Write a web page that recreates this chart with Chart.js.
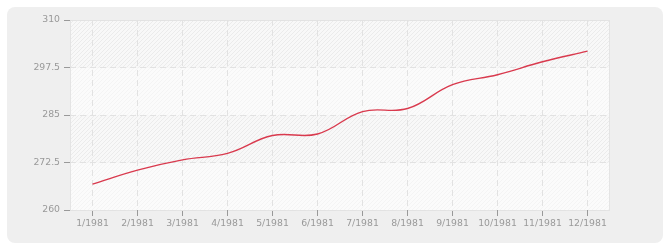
<!DOCTYPE html>
<html lang="fr">
<head>
  <meta charset="UTF-8" />
  <title>Population 1981</title>
  <script src="https://cdn.jsdelivr.net/npm/chart.js"></script>
  <style>
    body {
      margin: 0;
      background: #ffffff;
    }
    .panel {
      position: absolute;
      left: 7px;
      top: 7px;
      width: 656px;
      height: 236px;
      background: #efefef;
      border-radius: 8px;
    }
    canvas {
      display: block;
    }
  </style>
</head>
<body>
  <div class="panel">
    <canvas id="chart" width="656" height="236"></canvas>
  </div>

  <script>
    const months = ['1/1981', '2/1981', '3/1981', '4/1981', '5/1981', '6/1981',
                    '7/1981', '8/1981', '9/1981', '10/1981', '11/1981', '12/1981'];
    const values = [266.8, 270.5, 273.2, 274.9, 279.6, 280.0, 285.9, 286.7, 293.0, 295.6, 299.0, 301.8];
    const yTicks = [260, 272.5, 285, 297.5, 310];

    function makeHatch(bg, stripe) {
      const c = document.createElement('canvas');
      c.width = 4; c.height = 4;
      const g = c.getContext('2d');
      g.fillStyle = bg;
      g.fillRect(0, 0, 4, 4);
      g.strokeStyle = stripe;
      g.lineWidth = 1;
      g.beginPath();
      g.moveTo(-1, 5); g.lineTo(5, -1);
      g.stroke();
      return g.createPattern(c, 'repeat');
    }

    // striped bands behind the plot, one per tick interval
    const bandsPlugin = {
      id: 'bands',
      beforeDraw(chart) {
        const { ctx, chartArea: a, scales: { y } } = chart;
        const dark = makeHatch('#f8f8f8', '#ebebeb');
        const light = makeHatch('#fbfbfb', '#f4f4f4');
        ctx.save();
        for (let i = 0; i < yTicks.length - 1; i++) {
          const top = y.getPixelForValue(yTicks[i + 1]);
          const bot = y.getPixelForValue(yTicks[i]);
          ctx.fillStyle = (yTicks.length - 2 - i) % 2 === 0 ? dark : light;
          ctx.fillRect(a.left, top, a.right - a.left, bot - top);
        }
        ctx.strokeStyle = '#e4e4e4';
        ctx.lineWidth = 1;
        ctx.strokeRect(a.left + 0.5, a.top + 0.5, a.right - a.left - 1, a.bottom - a.top);
        ctx.restore();
      }
    };

    const tickFont = { family: '"DejaVu Sans", Verdana, sans-serif', size: 9.3 };

    new Chart(document.getElementById('chart'), {
      type: 'line',
      data: {
        labels: months,
        datasets: [{
          data: values,
          borderColor: '#d93a4e',
          borderWidth: 1.4,
          pointRadius: 0,
          tension: 0.4,
          fill: false
        }]
      },
      options: {
        responsive: false,
        animation: false,
        layout: { padding: { left: 0, right: 53, top: 13, bottom: 0 } },
        plugins: {
          legend: { display: false },
          tooltip: { enabled: false }
        },
        scales: {
          x: {
            offset: true,
            grid: {
              offset: false,
              color: '#e2e2e2',
              tickColor: '#999999',
              tickLength: 6
            },
            border: { display: false, dash: [6, 4] },
            ticks: { color: '#999999', font: tickFont, padding: 2, maxRotation: 0, autoSkip: false },
            afterFit(scale) { scale.height = 33; }
          },
          y: {
            min: 260,
            max: 310,
            afterBuildTicks(scale) { scale.ticks = yTicks.map(v => ({ value: v })); },
            grid: {
              color: '#e2e2e2',
              tickColor: '#999999',
              tickLength: 6
            },
            border: { display: false, dash: [6, 4] },
            ticks: { color: '#999999', font: tickFont, padding: 4 },
            afterFit(scale) { scale.width = 63; }
          }
        }
      },
      plugins: [bandsPlugin]
    });
  </script>
</body>
</html>
